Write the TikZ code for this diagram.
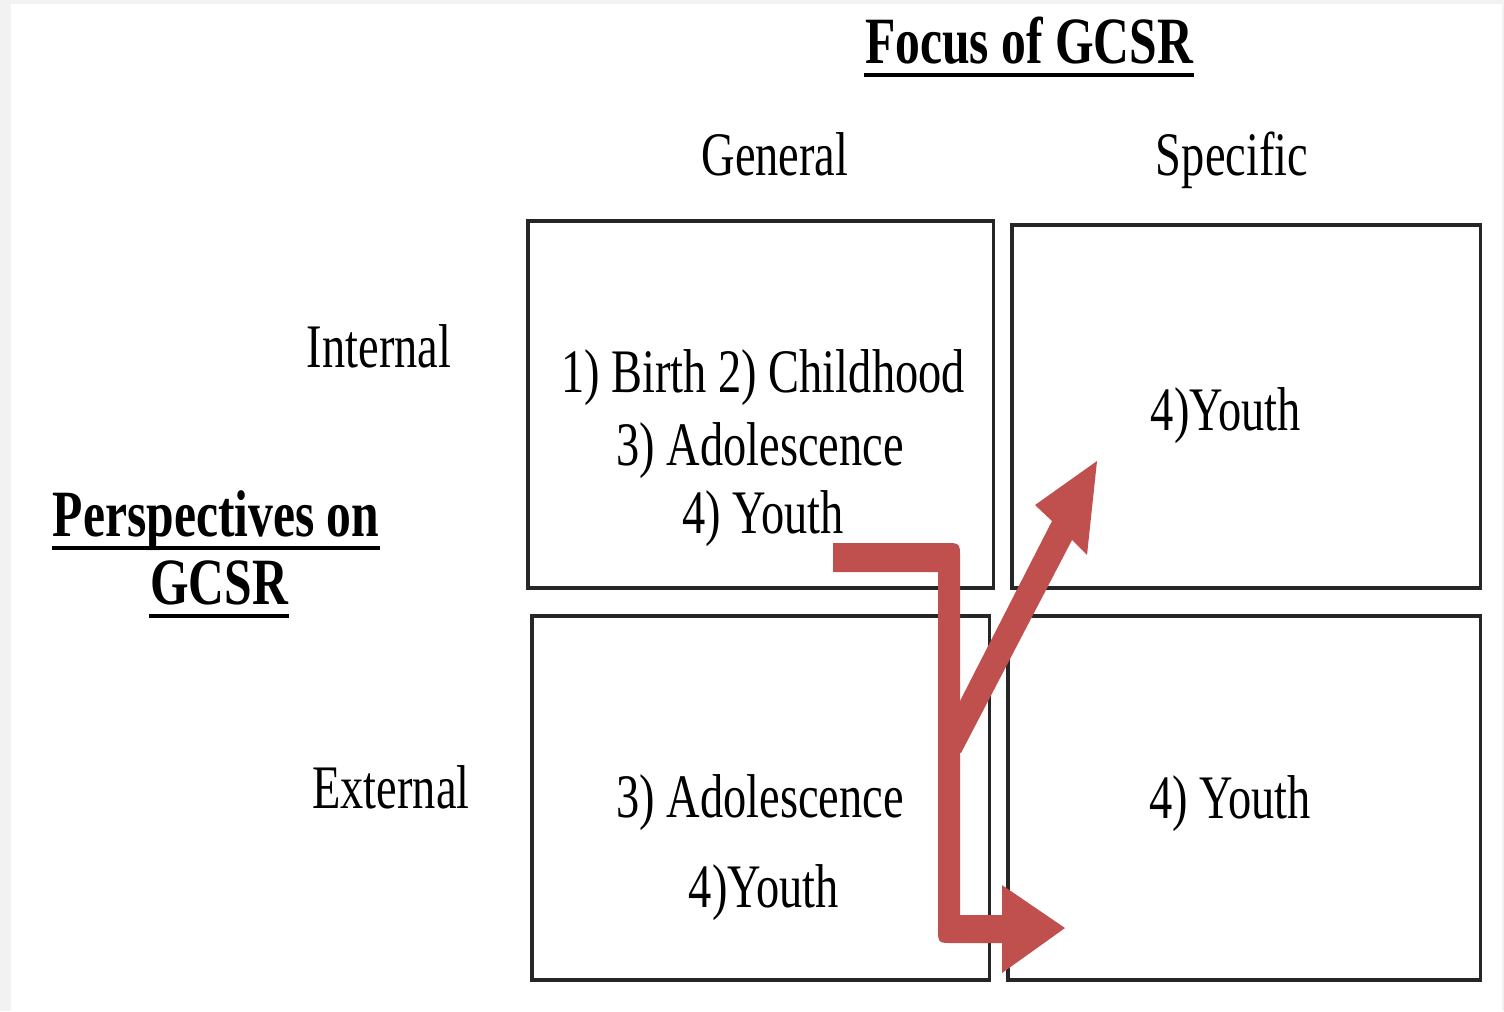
\documentclass[tikz,border=0pt]{standalone}
\usepackage{fontspec}
\setmainfont{Liberation Serif}[FakeStretch=0.75]
\usetikzlibrary{calc}
\definecolor{arrowred}{HTML}{C0504D}
\definecolor{boxline}{HTML}{262626}
\definecolor{pagegray}{HTML}{F2F2F2}
\begin{document}
\begin{tikzpicture}[x=0.01cm,y=-0.01cm,
  cell/.style={draw=boxline, line width=1pt, rectangle, inner sep=0pt, outer sep=0pt, anchor=north west},
  lbl/.style={inner sep=0pt, anchor=base, font=\fontsize{17.6}{20}\selectfont},
  head/.style={inner sep=0pt, anchor=base, font=\fontsize{18.8}{22}\selectfont\bfseries},
  uline/.style={line width=1.4pt, black},
  blockarrow/.style={fill=arrowred, draw=none}]
\useasboundingbox (0,0) rectangle (1504,1011);
\fill[pagegray] (0,0) rectangle (1504,1011);
\fill[white] (11,4) rectangle (1502,1011);

% boxes
\node[cell, minimum width=4.65cm, minimum height=3.67cm] (gi) at (528,221) {};
\node[cell, minimum width=4.68cm, minimum height=3.63cm] (si) at (1012,225) {};
\node[cell, minimum width=4.57cm, minimum height=3.64cm] (ge) at (532,616) {};
\node[cell, minimum width=4.72cm, minimum height=3.64cm] (se) at (1008,616) {};

% headings
\node[head] (focus) at (1029,63) {Focus of GCSR};
\draw[uline] ($(focus.base west)+(0,12)$) -- ($(focus.base east)+(0,12)$);
\node[head] (persp) at (216,536) {Perspectives on};
\draw[uline] ($(persp.base west)+(0,12)$) -- ($(persp.base east)+(0,12)$);
\node[head] (gcsr) at (219,604) {GCSR};
\draw[uline] ($(gcsr.base west)+(0,12)$) -- ($(gcsr.base east)+(0,12)$);

% column / row labels
\node[lbl] (general) at (775,175) {General};
\node[lbl] (specific) at (1232,175) {Specific};
\node[lbl] (internal) at (379,367) {Internal};
\node[lbl] (external) at (391,808) {External};

% cell texts
\node[lbl] (gi1) at (763,392) {1) Birth 2) Childhood};
\node[lbl] (gi2) at (760,465) {3) Adolescence};
\node[lbl] (gi3) at (763,533) {4) Youth};
\node[lbl] (si1) at (1226,430) {4)Youth};
\node[lbl] (ge1) at (760,817) {3) Adolescence};
\node[lbl] (ge2) at (764,907) {4)Youth};
\node[lbl] (se1) at (1230,818) {4) Youth};

% block arrows
\fill[blockarrow] (833,543) -- (945,543) .. controls (960,543) .. (960,558)
  -- (960,915) -- (1002,915) -- (1002,885) -- (1065,928) -- (1002,973)
  -- (1002,943) -- (953,943) .. controls (938,943) .. (938,928)
  -- (938,572) -- (833,572) -- cycle;
\fill[blockarrow] (939,742) -- (1052,521) -- (1035,505) -- (1097,461)
  -- (1087,555) -- (1072,540) -- (961,753) -- cycle;
\end{tikzpicture}
\end{document}
